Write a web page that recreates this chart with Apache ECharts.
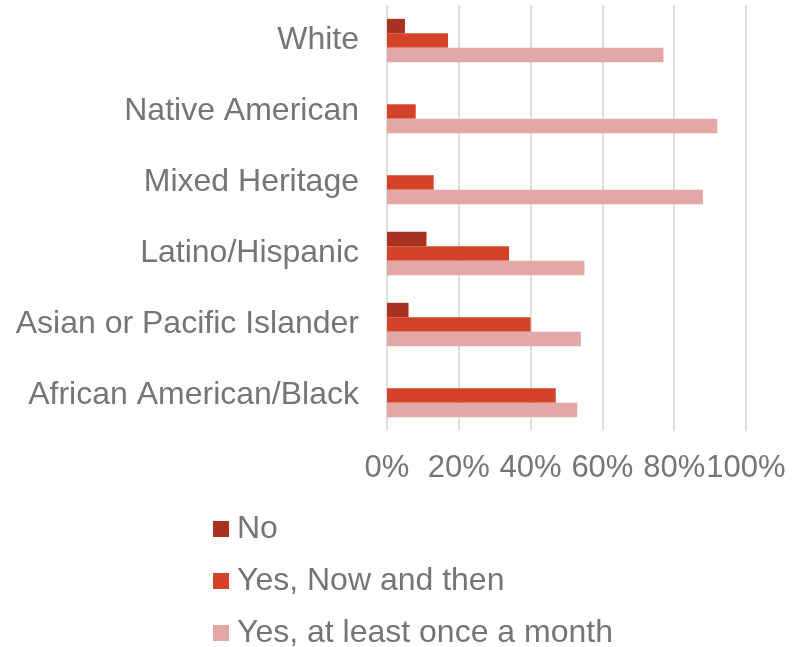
<!DOCTYPE html>
<html>
<head>
<meta charset="utf-8">
<script src="https://cdn.jsdelivr.net/npm/echarts@6/dist/echarts.min.js"></script>
<style>
  html, body { margin: 0; padding: 0; background: #ffffff; }
  #chart { width: 800px; height: 647px; }
</style>
</head>
<body>
<div id="chart"></div>
<script>
// Survey groups, listed bottom to top along the category axis
const categories = [
  'African American/Black',
  'Asian or Pacific Islander',
  'Latino/Hispanic',
  'Mixed Heritage',
  'Native American',
  'White'
];

// Share of respondents per answer (percent)
const seriesNames = ['No', 'Yes, Now and then', 'Yes, at least once a month'];
const noValues = [0, 6, 11, 0, 0, 5];
const nowAndThenValues = [47, 40, 34, 13, 8, 17];
const monthlyValues = [53, 54, 55, 88, 92, 77];

// Axis ticks
const tickMin = 0;
const tickMax = 100;
const tickStep = 20;

const colors = ['#a93222', '#d3432a', '#e2a8a5'];
const textColor = '#757575';
const fontFamily = 'Liberation Sans, Arial, sans-serif';
const fontSize = 32;

const chart = echarts.init(document.getElementById('chart'), null, { renderer: 'canvas' });

const valuesBySeries = [noValues, nowAndThenValues, monthlyValues];

chart.setOption({
  animation: false,
  backgroundColor: '#ffffff',
  color: colors,
  textStyle: { fontFamily: fontFamily },
  grid: { left: 387, right: 54, top: 5, height: 426, containLabel: false },
  legend: {
    orient: 'vertical',
    left: 213,
    top: 513,
    height: 200,
    padding: 0,
    itemWidth: 16,
    itemHeight: 16,
    itemGap: 20,
    icon: 'rect',
    data: seriesNames,
    textStyle: { color: textColor, fontSize: fontSize, fontFamily: fontFamily, lineHeight: 32, padding: [0, 0, 0, 3] }
  },
  xAxis: {
    type: 'value',
    min: tickMin,
    max: tickMax,
    interval: tickStep,
    axisLine: { show: false },
    axisTick: { show: false },
    axisLabel: {
      color: textColor,
      fontSize: 31,
      fontFamily: fontFamily,
      margin: 22,
      formatter: '{value}%',
      showMinLabel: true,
      showMaxLabel: true,
      hideOverlap: false
    },
    splitLine: { show: true, lineStyle: { color: '#dedede', width: 2 } }
  },
  yAxis: {
    type: 'category',
    data: categories,
    axisLine: { show: false },
    axisTick: { show: false },
    axisLabel: { color: textColor, fontSize: fontSize, fontFamily: fontFamily, margin: 28 }
  },
  series: valuesBySeries.map((vals, i) => ({
    name: seriesNames[i],
    type: 'bar',
    data: vals,
    barGap: '0%',
    barCategoryGap: '39%',
    itemStyle: { color: colors[i] }
  }))
});
</script>
</body>
</html>
